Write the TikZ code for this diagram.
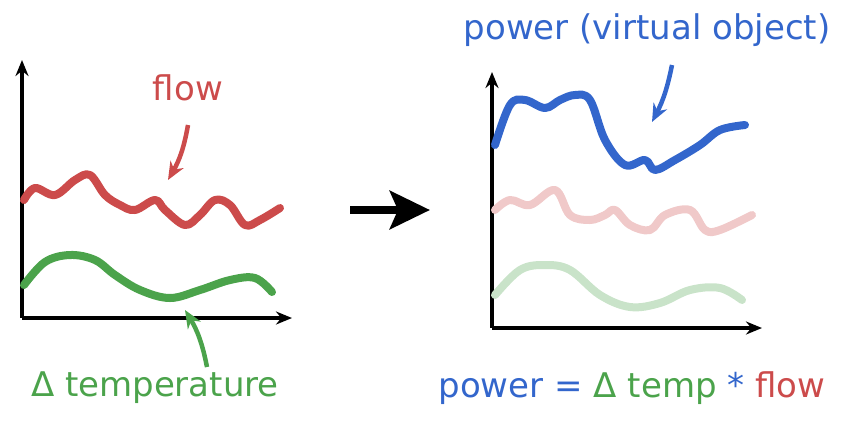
\documentclass[tikz,border=0pt]{standalone}
\usepackage{fontspec}
\setmainfont{DejaVu Sans}
\usetikzlibrary{arrows.meta}
\definecolor{cred}{HTML}{CC4B4B}
\definecolor{cgreen}{HTML}{4BA34B}
\definecolor{cblue}{HTML}{3366CC}
\begin{document}
\begin{tikzpicture}[x=1bp,y=-1bp,
 axis/.style={line width=3.5bp,-{Stealth[length=16bp,width=13bp]}},
 wave/.style={line width=8bp,line cap=round,line join=round},
 pointer/.style={line width=4.5bp,-{Stealth[length=18bp,width=15bp]}},
 lbl/.style={font=\fontsize{34bp}{38bp}\selectfont}]
\useasboundingbox (0,0) rectangle (850,423);
% left axes
\coordinate (lo) at (22,318);
\coordinate (ly) at (22,60);
\coordinate (lx) at (292,318);
\draw[axis] (lo) -- (ly);
\draw[axis] (lo) -- (lx);
\draw[wave,cred] plot[smooth,tension=0.6] coordinates {(24,200)(35,188)(55,195)(75,180)(90,175)(105,195)(120,205)(135,210)(155,200)(165,210)(185,225)(200,215)(215,200)(230,205)(245,225)(260,220)(280,208)};
\draw[wave,cgreen] plot[smooth,tension=0.6] coordinates {(24,285)(45,262)(70,255)(95,260)(115,275)(140,290)(170,298)(200,290)(230,280)(255,278)(272,292)};
\node[lbl,text=cred] (flow) at (188,88) {flow};
\coordinate (fs) at (188,125);
\coordinate (fe) at (168,180);
\draw[pointer,cred] (fs) to[bend left=10] (fe);
\node[lbl,text=cgreen] (dt) at (155,388) {Δ temperature};
\coordinate (gs) at (207,367);
\coordinate (ge) at (185,310);
\draw[pointer,cgreen] (gs) to[bend right=10] (ge);
% big arrow
\coordinate (as) at (350,210);
\coordinate (ae) at (430,210);
\draw[line width=8bp,-{Stealth[length=40bp,width=38bp,inset=8bp]}] (as) -- (ae);
% right axes
\coordinate (ro) at (492,328);
\coordinate (ry) at (492,72);
\coordinate (rx) at (762,328);
\draw[axis] (ro) -- (ry);
\draw[axis] (ro) -- (rx);
\draw[wave,cred!30] plot[smooth,tension=0.6] coordinates {(495,210)(510,200)(530,205)(555,190)(570,215)(590,220)(605,215)(615,210)(630,225)(650,230)(665,215)(690,210)(705,230)(720,230)(752,215)};
\draw[wave,cgreen!30] plot[smooth,tension=0.6] coordinates {(495,295)(520,270)(545,265)(570,270)(600,295)(630,307)(660,303)(690,290)(720,288)(742,300)};
\draw[wave,cblue] plot[smooth,tension=0.6] coordinates {(495,145)(510,105)(525,100)(545,108)(560,100)(575,95)(590,100)(605,140)(625,165)(645,160)(655,170)(675,160)(700,145)(720,130)(745,125)};
\node[lbl,text=cblue] (pv) at (647,30) {power (virtual object)};
\coordinate (bs) at (672,65);
\coordinate (be) at (652,122);
\draw[pointer,cblue] (bs) to[bend left=8] (be);
\node[lbl] (eq) at (632,388) {\textcolor{cblue}{power =} \textcolor{cgreen}{Δ temp} \textcolor{cblue}{*} \textcolor{cred}{flow}};
\end{tikzpicture}
\end{document}
